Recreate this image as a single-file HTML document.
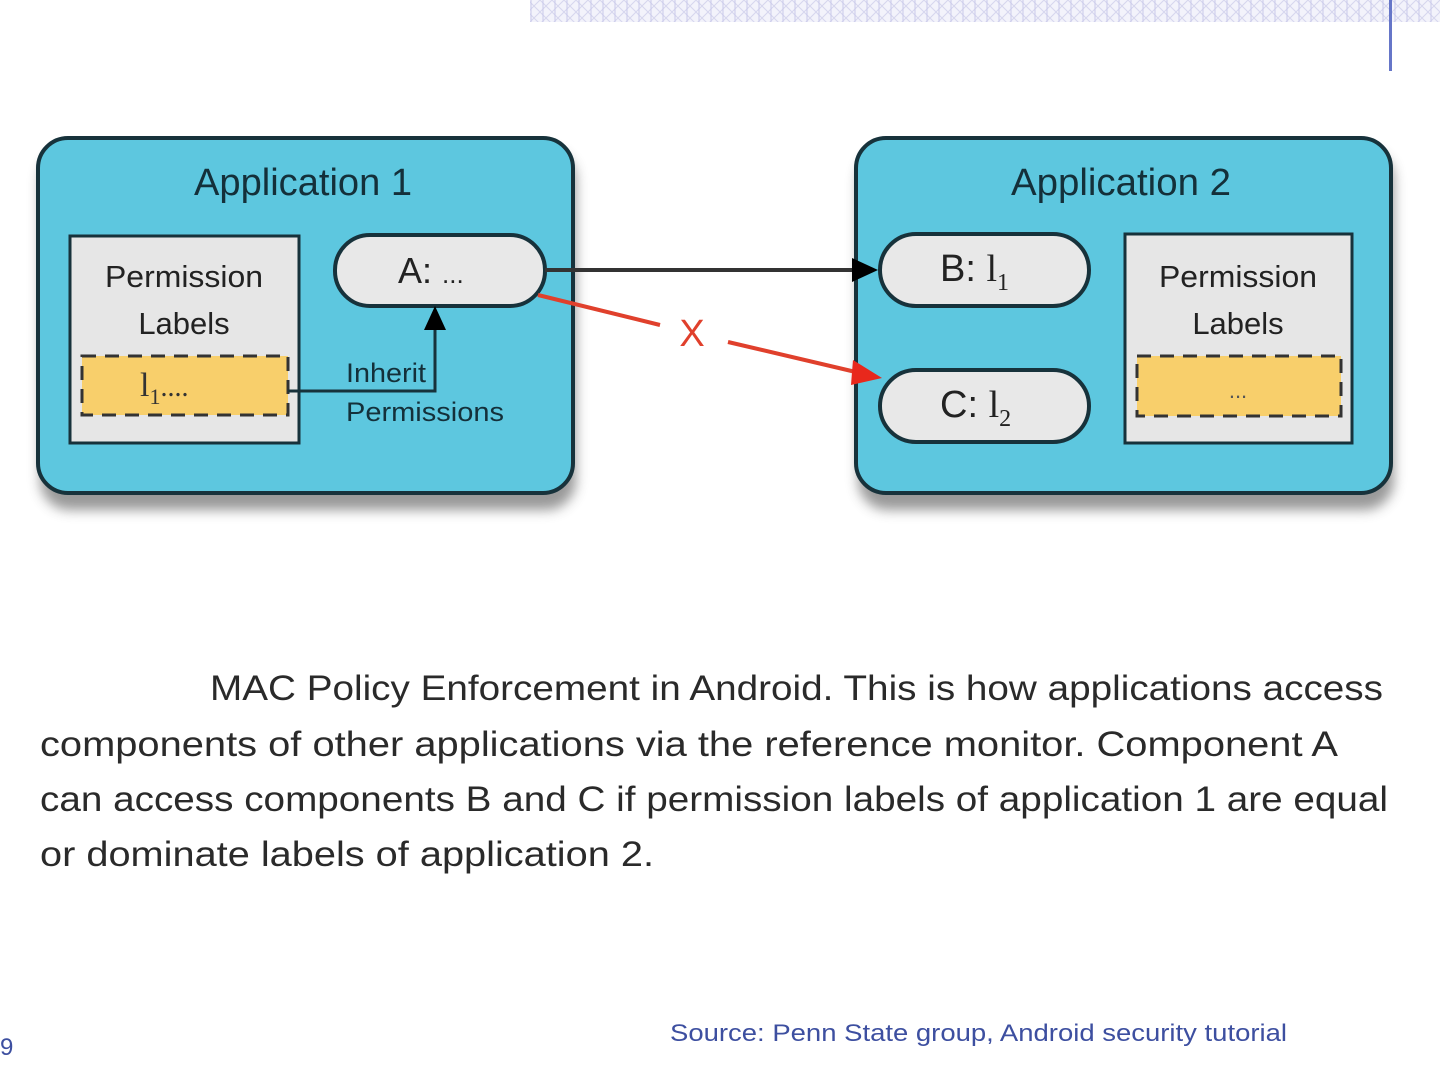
<!DOCTYPE html>
<html><head><meta charset="utf-8"><style>
html,body{margin:0;padding:0;background:#fff;width:1440px;height:1080px;overflow:hidden}
svg{display:block}
</style></head><body>
<svg width="1440" height="1080" viewBox="0 0 1440 1080" xmlns="http://www.w3.org/2000/svg" font-family="Liberation Sans, sans-serif">
<defs>
<pattern id="hatch" width="12" height="12" patternUnits="userSpaceOnUse">
<rect width="12" height="12" fill="#f3f3fb"/>
<path d="M0 0L12 12M12 0L0 12" stroke="#d6d6ee" stroke-width="1"/>
<path d="M3 0V12" stroke="#c8c8ea" stroke-width="1"/>
</pattern>
<filter id="sh" x="-10%" y="-10%" width="120%" height="130%"><feGaussianBlur stdDeviation="6"/></filter>
</defs>
<rect x="530" y="0" width="910" height="22" fill="url(#hatch)"/>
<rect x="1389" y="0" width="3" height="71" fill="#6676c8"/>

<!-- shadows -->
<rect x="40" y="150" width="536" height="360" rx="30" fill="#555" opacity="0.6" filter="url(#sh)"/>
<rect x="858" y="150" width="536" height="360" rx="30" fill="#555" opacity="0.6" filter="url(#sh)"/>

<!-- App 1 -->
<rect x="38" y="138" width="535" height="355" rx="30" fill="#5dc7df" stroke="#17323b" stroke-width="4"/>
<text x="303" y="195" text-anchor="middle" font-size="38" fill="#14303a" textLength="218" lengthAdjust="spacingAndGlyphs">Application 1</text>
<rect x="70" y="236" width="229" height="207" fill="#e6e6e6" stroke="#17323b" stroke-width="3"/>
<text x="184" y="287" text-anchor="middle" font-size="31" fill="#222" textLength="158" lengthAdjust="spacingAndGlyphs">Permission</text>
<text x="184" y="334" text-anchor="middle" font-size="31" fill="#222">Labels</text>
<rect x="82" y="356" width="206" height="59" fill="#f8cf6b" stroke="#333" stroke-width="3" stroke-dasharray="14 9"/>
<text x="140" y="396" font-family="Liberation Serif, serif" font-size="34" fill="#333">l<tspan font-size="22" dy="8">1</tspan><tspan dy="-8" font-size="28">....</tspan></text>
<rect x="335" y="235" width="210" height="71" rx="35" fill="#e8e8e8" stroke="#17323b" stroke-width="4"/>
<text x="398" y="283" font-size="36" fill="#222">A: <tspan font-size="26">...</tspan></text>
<polyline points="288,391 435,391 435,325" fill="none" stroke="#17323b" stroke-width="3"/>
<polygon points="435,306 424,330 446,330" fill="#000"/>
<text x="346" y="382" font-size="27" fill="#14303a" textLength="80" lengthAdjust="spacingAndGlyphs">Inherit</text>
<text x="346" y="421" font-size="27" fill="#14303a" textLength="158" lengthAdjust="spacingAndGlyphs">Permissions</text>

<!-- App 2 -->
<rect x="856" y="138" width="535" height="355" rx="30" fill="#5dc7df" stroke="#17323b" stroke-width="4"/>
<text x="1121" y="195" text-anchor="middle" font-size="38" fill="#14303a" textLength="220" lengthAdjust="spacingAndGlyphs">Application 2</text>
<rect x="880" y="234" width="209" height="72" rx="36" fill="#e8e8e8" stroke="#17323b" stroke-width="4"/>
<text x="940" y="281" font-size="38" fill="#222">B: <tspan font-family="Liberation Serif, serif">l</tspan><tspan font-family="Liberation Serif, serif" font-size="24" dy="9">1</tspan></text>
<rect x="880" y="370" width="209" height="72" rx="36" fill="#e8e8e8" stroke="#17323b" stroke-width="4"/>
<text x="940" y="417" font-size="38" fill="#222">C: <tspan font-family="Liberation Serif, serif">l</tspan><tspan font-family="Liberation Serif, serif" font-size="24" dy="9">2</tspan></text>
<rect x="1125" y="234" width="227" height="209" fill="#e6e6e6" stroke="#17323b" stroke-width="3"/>
<text x="1238" y="287" text-anchor="middle" font-size="31" fill="#222" textLength="158" lengthAdjust="spacingAndGlyphs">Permission</text>
<text x="1238" y="334" text-anchor="middle" font-size="31" fill="#222">Labels</text>
<rect x="1137" y="356" width="204" height="60" fill="#f8cf6b" stroke="#333" stroke-width="3" stroke-dasharray="14 9"/>
<text x="1238" y="398" text-anchor="middle" font-size="22" fill="#555">...</text>

<!-- connectors -->
<line x1="545" y1="270" x2="855" y2="270" stroke="#333" stroke-width="4"/>
<polygon points="878,270 852,258 852,282" fill="#000"/>
<line x1="538" y1="295" x2="660" y2="325" stroke="#e0402c" stroke-width="4"/>
<text x="692" y="346" text-anchor="middle" font-size="38" fill="#e0402c">X</text>
<line x1="728" y1="342" x2="860" y2="373" stroke="#e0402c" stroke-width="4"/>
<polygon points="882,378 853,360 851,385" fill="#e8281c"/>

<!-- paragraph -->
<g font-size="35" fill="#2a2a2a">
<text x="210" y="700" textLength="1173" lengthAdjust="spacingAndGlyphs">MAC Policy Enforcement in Android. This is how applications access</text>
<text x="40" y="756" textLength="1298" lengthAdjust="spacingAndGlyphs">components of other applications via the reference monitor. Component A</text>
<text x="40" y="811" textLength="1348" lengthAdjust="spacingAndGlyphs">can access components B and C if permission labels of application 1 are equal</text>
<text x="40" y="866" textLength="614" lengthAdjust="spacingAndGlyphs">or dominate labels of application 2.</text>
</g>
<text x="670" y="1041" font-size="24" fill="#3d4fa0" textLength="617" lengthAdjust="spacingAndGlyphs">Source: Penn State group, Android security tutorial</text>
<text x="0" y="1055" font-size="24" fill="#3d4fa0">9</text>
</svg>
</body></html>
